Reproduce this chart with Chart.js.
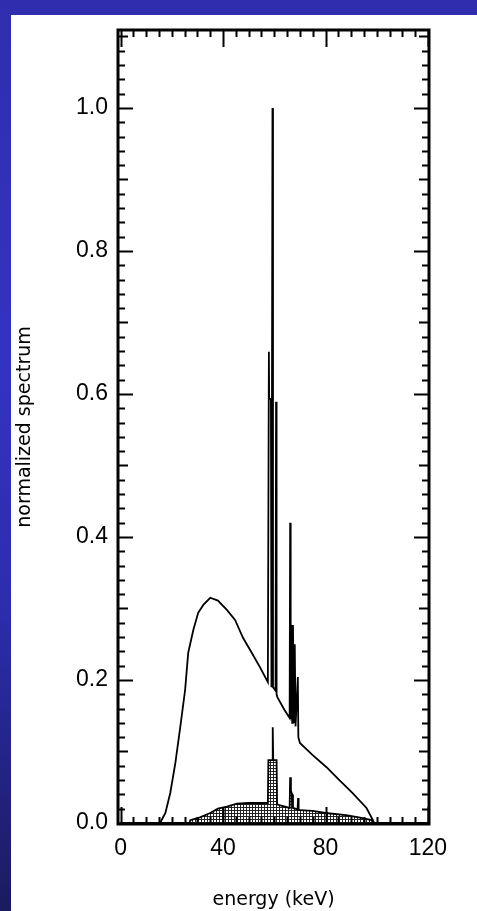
<!DOCTYPE html>
<html><head><meta charset="utf-8">
<script src="https://cdn.jsdelivr.net/npm/chart.js@4.4.1/dist/chart.umd.min.js"></script>
<style>
html,body{margin:0;padding:0;width:477px;height:911px;overflow:hidden;}
body{background:linear-gradient(to bottom,#302eae 0%,#3333c3 40%,#2c2cac 68%,#1b1b60 100%);position:relative;}
#paper{position:absolute;left:11px;top:15px;right:0;bottom:0;background:#fff;}
#wrap{position:absolute;left:0;top:0;width:477px;height:911px;}
</style></head><body>
<div id="paper"></div>
<div id="wrap"><canvas id="c" width="477" height="911"></canvas></div>
<script>
// ---- data ----
const mainEnergy = [0, 15.5, 16.3, 17.5, 19.4, 21.4, 23.3, 25.2, 26.4, 28.4, 30.3, 32.3, 35.0, 38.0, 41.5, 44.7, 47.8, 51.2, 54.4, 57.5,
  57.9, 58.0, 58.7, 58.9, 59.3, 59.5, 60.5, 60.7, 60.9, 61.2, 64.0, 66.0, 66.2, 66.4, 66.6, 67.0, 67.3, 67.7, 68.0, 68.3, 69.2, 69.4,
  70.0, 75.0, 80.4, 85.4, 90.5, 96.0, 98.5, 99.0, 120.0];
const mainValue = [0, 0, 0.006, 0.014, 0.042, 0.084, 0.134, 0.186, 0.238, 0.270, 0.294, 0.305, 0.315, 0.311, 0.298, 0.284, 0.259, 0.238, 0.218, 0.197,
  0.659, 0.593, 0.593, 0.190, 1.000, 0.190, 0.185, 0.589, 0.180, 0.176, 0.158, 0.147, 0.420, 0.145, 0.277, 0.140, 0.277, 0.140, 0.250, 0.135, 0.204, 0.120,
  0.112, 0.095, 0.078, 0.060, 0.042, 0.021, 0.004, 0, 0];
const filtEnergy = [0, 27.0, 27.2, 31.0, 35.0, 38.0, 41.5, 45.4, 50.0, 57.5, 57.7, 59.2, 59.4, 59.6, 60.9, 61.1, 62.0, 66.0, 66.2, 66.5, 67.0, 67.3,
  69.1, 69.3, 69.5, 70.0, 75.0, 80.0, 88.0, 93.0, 98.0, 98.5, 120.0];
const filtValue = [0, 0, 0.004, 0.008, 0.014, 0.020, 0.023, 0.027, 0.028, 0.028, 0.088, 0.088, 0.134, 0.088, 0.088, 0.026, 0.025, 0.021, 0.064, 0.045, 0.040, 0.021,
  0.019, 0.035, 0.018, 0.018, 0.017, 0.014, 0.011, 0.008, 0.004, 0, 0];
const xTickValues = [0, 40, 80, 120];
const xTickLabels = ['0', '40', '80', '120'];
const yTickValues = [0, 0.2, 0.4, 0.6, 0.8, 1.0];
const yTickLabels = ['0.0', '0.2', '0.4', '0.6', '0.8', '1.0'];
const xTitle = 'energy (keV)';
const yTitle = 'normalized spectrum';

// minor tick positions
const xMinorTicks = []; for (let v = 0; v <= 120; v += 5) xMinorTicks.push(v);
const yMinorTicks = []; for (let k = 0; k <= 55; k++) yMinorTicks.push(+(k * 0.02).toFixed(2));

// hatch pattern for the filtered spectrum
const pc = document.createElement('canvas'); pc.width = 3; pc.height = 3;
const pctx = pc.getContext('2d');
pctx.fillStyle = '#fff'; pctx.fillRect(0, 0, 3, 3);
pctx.fillStyle = '#222'; pctx.fillRect(0, 0, 3, 1); pctx.fillRect(0, 0, 1, 3);
const ctx0 = document.getElementById('c').getContext('2d');
const hatch = ctx0.createPattern(pc, 'repeat');

const framePlugin = {
  id: 'frame',
  afterDatasetsDraw(chart) {
    const { ctx, chartArea: a, scales: { x, y } } = chart;
    ctx.save();
    ctx.strokeStyle = '#000';
    ctx.lineWidth = 2;
    ctx.beginPath();
    xMinorTicks.forEach(v => {
      const px = Math.round(x.getPixelForValue(v)) + 0.5;
      const L = xTickValues.includes(v) ? 17 : 7;
      ctx.moveTo(px, a.bottom); ctx.lineTo(px, a.bottom - L);
      ctx.moveTo(px, a.top); ctx.lineTo(px, a.top + L);
    });
    yMinorTicks.forEach(v => {
      const py = Math.round(y.getPixelForValue(v)) + 0.5;
      if (py < a.top + 2) return;
      const k = Math.round(v * 50);
      const L = (k % 10 === 0) ? 15 : (k % 5 === 0 ? 10 : 7);
      ctx.moveTo(a.left, py); ctx.lineTo(a.left + L, py);
      ctx.moveTo(a.right, py); ctx.lineTo(a.right - L, py);
    });
    ctx.stroke();
    ctx.lineWidth = 3;
    ctx.strokeRect(a.left, a.top, a.right - a.left, a.bottom - a.top);
    ctx.restore();
  }
};

new Chart(ctx0, {
  type: 'scatter',
  data: {
    datasets: [
      {
        data: mainEnergy.map((e, i) => ({ x: e, y: mainValue[i] })),
        showLine: true, borderColor: '#000', borderWidth: 1.8, pointRadius: 0, tension: 0, fill: false
      },
      {
        data: filtEnergy.map((e, i) => ({ x: e, y: filtValue[i] })),
        showLine: true, borderColor: '#000', borderWidth: 1.8, pointRadius: 0, tension: 0,
        fill: 'origin', backgroundColor: hatch
      }
    ]
  },
  options: {
    responsive: false, animation: false, devicePixelRatio: 1,
    layout: { padding: { left: 0, right: 48, top: 30, bottom: 0 } },
    plugins: { legend: { display: false }, tooltip: { enabled: false } },
    scales: {
      x: {
        type: 'linear', min: -1, max: 120.4,
        afterBuildTicks: s => { s.ticks = xTickValues.map(v => ({ value: v })); },
        afterFit: s => { s.height = 87; },
        ticks: { callback: (v, i) => xTickLabels[i], font: { family: 'Liberation Sans', size: 23 }, color: '#000', padding: 11, maxRotation: 0, autoSkip: false },
        grid: { display: false, drawTicks: false },
        border: { display: false },
        title: { display: true, text: xTitle, font: { family: 'DejaVu Sans', size: 19 }, color: '#000', padding: { top: 0, bottom: 0 } }
      },
      y: {
        type: 'linear', min: -0.0014, max: 1.109,
        afterBuildTicks: s => { s.ticks = yTickValues.map(v => ({ value: v })); },
        afterFit: s => { s.width = 118; },
        ticks: { callback: (v, i) => yTickLabels[i], font: { family: 'Liberation Sans', size: 23 }, color: '#000', padding: 10, autoSkip: false },
        grid: { display: false, drawTicks: false },
        border: { display: false },
        title: { display: true, text: yTitle, font: { family: 'DejaVu Sans', size: 19 }, color: '#000', padding: { top: 14, bottom: 0 } }
      }
    }
  },
  plugins: [framePlugin]
});
</script>
</body></html>
